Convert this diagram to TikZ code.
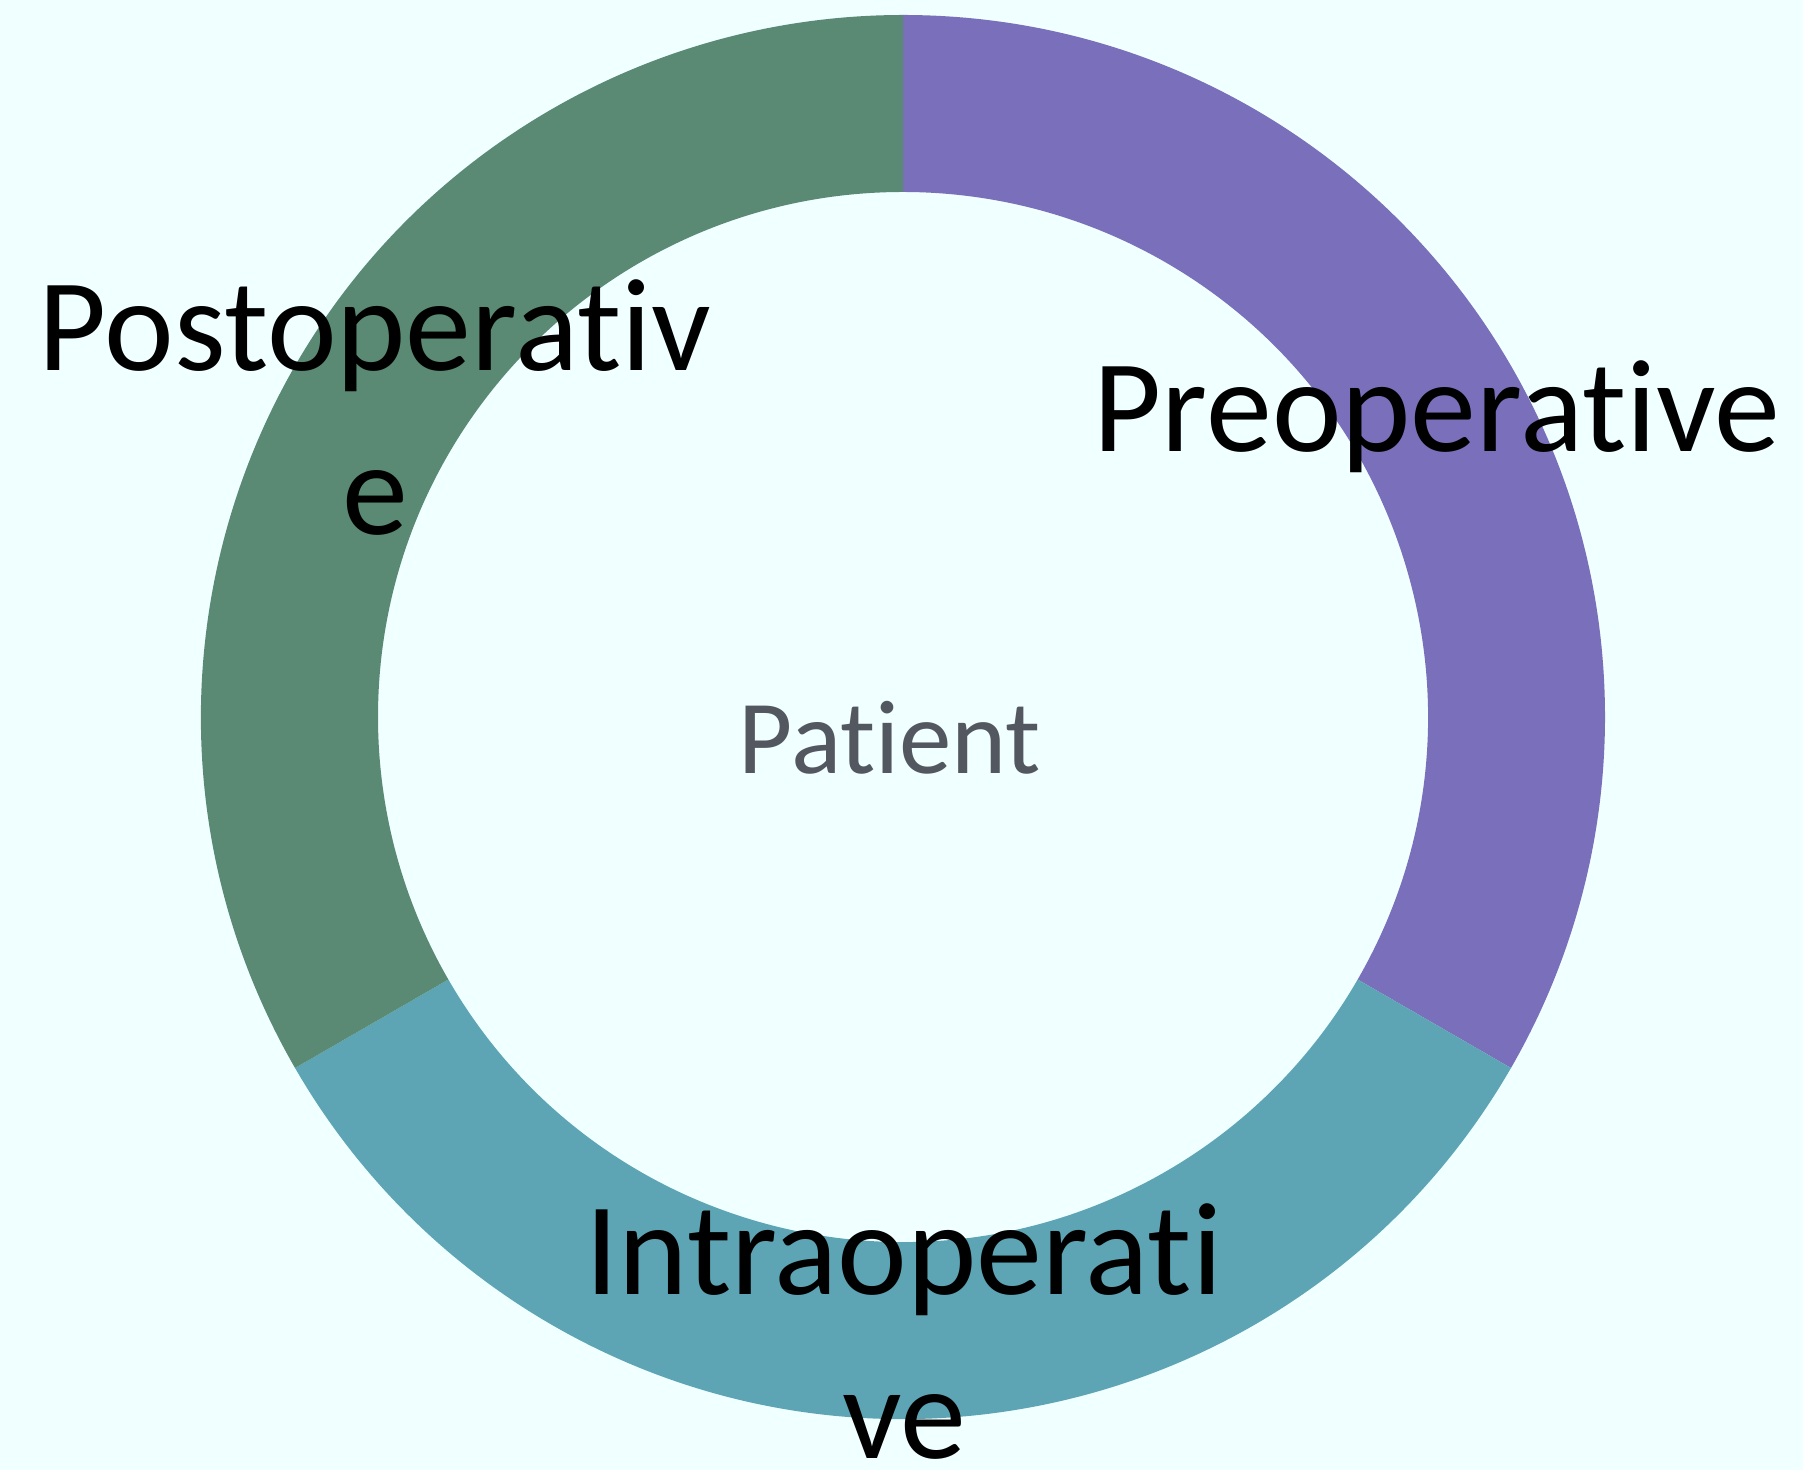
\documentclass[tikz,border=0pt]{standalone}
\usepackage{fontspec}
\setmainfont{Carlito}[Ligatures=NoCommon]
\definecolor{bgc}{HTML}{F0FFFF}
\definecolor{preC}{HTML}{7A6FBA}
\definecolor{intraC}{HTML}{5DA5B4}
\definecolor{postC}{HTML}{5A8A74}
\definecolor{patC}{HTML}{525760}
\begin{document}
\begin{tikzpicture}[x=1pt,y=1pt,
  bigtxt/.style={inner sep=0pt,font=\fontsize{132}{164}\selectfont,text=black,align=center},
  midtxt/.style={inner sep=0pt,font=\fontsize{105}{127}\selectfont,text=patC}]
\fill[bgc] (0,0) rectangle (1803,1470);
\useasboundingbox (0,0) rectangle (1803,1470);
\coordinate (c) at (903,753);
\begin{scope}[shift={(c)}]
\fill[preC] (90:702) arc[start angle=90,end angle=-30,radius=702] -- (-30:525) arc[start angle=-30,end angle=90,radius=525] -- cycle;
\fill[intraC] (-30:702) arc[start angle=-30,end angle=-150,radius=702] -- (-150:525) arc[start angle=-150,end angle=-30,radius=525] -- cycle;
\fill[postC] (210:702) arc[start angle=210,end angle=90,radius=702] -- (90:525) arc[start angle=90,end angle=210,radius=525] -- cycle;
\end{scope}
\node[midtxt,anchor=base] (patient) at (890,696) {Patient};
\node[bigtxt,anchor=base] (pre) at (1437,1018) {Preoperative};
\node[bigtxt,anchor=base] (post) at (375,935) {Postoperativ\\e};
\node[bigtxt,anchor=base] (intra) at (904,12) {Intraoperati\\ve};
\end{tikzpicture}
\end{document}
